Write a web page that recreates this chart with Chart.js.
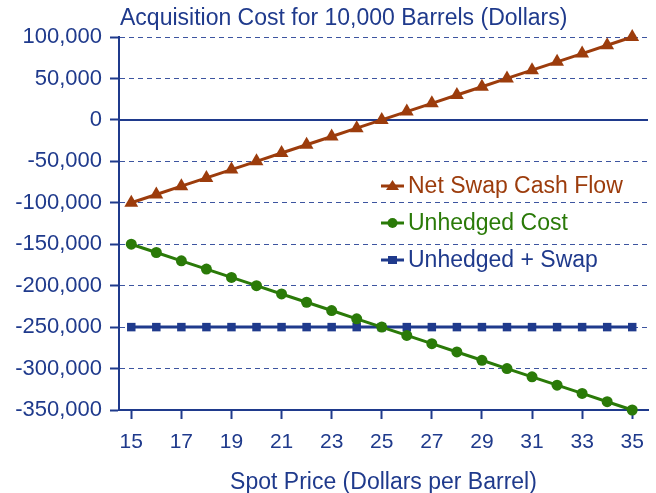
<!DOCTYPE html>
<html>
<head>
<meta charset="utf-8">
<script src="https://cdn.jsdelivr.net/npm/chart.js@4"></script>
<style>
  html, body { margin: 0; padding: 0; background: #fff; }
  #wrap { width: 656px; height: 493px; position: relative; }
</style>
</head>
<body>
<div id="wrap"><canvas id="swapChart"></canvas></div>
<script>
const spotPrices = [15, 16, 17, 18, 19, 20, 21, 22, 23, 24, 25, 26, 27, 28, 29, 30, 31, 32, 33, 34, 35];
const netSwap = [-100000, -90000, -80000, -70000, -60000, -50000, -40000, -30000, -20000, -10000, 0,
  10000, 20000, 30000, 40000, 50000, 60000, 70000, 80000, 90000, 100000];
const unhedged = [-150000, -160000, -170000, -180000, -190000, -200000, -210000, -220000, -230000, -240000, -250000,
  -260000, -270000, -280000, -290000, -300000, -310000, -320000, -330000, -340000, -350000];
const hedged = [-250000, -250000, -250000, -250000, -250000, -250000, -250000, -250000, -250000, -250000, -250000,
  -250000, -250000, -250000, -250000, -250000, -250000, -250000, -250000, -250000, -250000];
const xTicks = [15, 17, 19, 21, 23, 25, 27, 29, 31, 33, 35];
const yTicks = [-350000, -300000, -250000, -200000, -150000, -100000, -50000, 0, 50000, 100000];
const seriesNames = ["Net Swap Cash Flow", "Unhedged Cost", "Unhedged + Swap"];

const NAVY = "#1f3a8c";
const BROWN = "#9c3c0c";
const GREEN = "#2a7a08";
const FONT = "'Liberation Sans', Arial, sans-serif";

// titulo, linea del cero y leyenda dentro del area del grafico
const extras = {
  id: "extras",
  beforeDatasetsDraw(chart) {
    const { ctx, scales } = chart;
    const y0 = scales.y.getPixelForValue(0);
    ctx.save();
    ctx.strokeStyle = NAVY;
    ctx.lineWidth = 2;
    ctx.beginPath();
    ctx.moveTo(chart.chartArea.left, y0);
    ctx.lineTo(chart.chartArea.right, y0);
    ctx.stroke();
    ctx.restore();
  },
  afterDraw(chart) {
    const { ctx } = chart;
    ctx.save();
    ctx.font = "23px " + FONT;
    ctx.fillStyle = NAVY;
    ctx.textBaseline = "middle";
    ctx.fillText("Acquisition Cost for 10,000 Barrels (Dollars)", 120, 19);

    const colors = [BROWN, GREEN, NAVY];
    const shapes = ["triangle", "circle", "rect"];
    const rows = [186, 223, 260];
    rows.forEach((ry, i) => {
      ctx.strokeStyle = colors[i];
      ctx.fillStyle = colors[i];
      ctx.lineWidth = 3;
      ctx.beginPath();
      ctx.moveTo(381, ry);
      ctx.lineTo(404, ry);
      ctx.stroke();
      ctx.beginPath();
      if (shapes[i] === "triangle") {
        ctx.moveTo(392.5, ry - 6);
        ctx.lineTo(399, ry + 4);
        ctx.lineTo(386, ry + 4);
        ctx.closePath();
      } else if (shapes[i] === "circle") {
        ctx.arc(392.5, ry, 5, 0, Math.PI * 2);
      } else {
        ctx.rect(388, ry - 4, 9, 8);
      }
      ctx.fill();
      ctx.fillText(seriesNames[i], 408, ry + 1);
    });
    ctx.restore();
  },
};

const mkData = (vals) => spotPrices.map((x, i) => ({ x, y: vals[i] }));

new Chart(document.getElementById("swapChart"), {
  type: "line",
  data: {
    datasets: [
      {
        label: seriesNames[0],
        data: mkData(netSwap),
        borderColor: BROWN,
        backgroundColor: BROWN,
        borderWidth: 3,
        pointStyle: "triangle",
        pointRadius: 8,
        pointBorderWidth: 0,
      },
      {
        label: seriesNames[1],
        data: mkData(unhedged),
        borderColor: GREEN,
        backgroundColor: GREEN,
        borderWidth: 3,
        pointStyle: "circle",
        pointRadius: 5.5,
        pointBorderWidth: 0,
      },
      {
        label: seriesNames[2],
        data: mkData(hedged),
        borderColor: NAVY,
        backgroundColor: NAVY,
        borderWidth: 3,
        pointStyle: "rect",
        pointRadius: 6,
        pointBorderWidth: 0,
      },
    ],
  },
  options: {
    responsive: true,
    maintainAspectRatio: false,
    animation: false,
    clip: false,
    layout: { padding: { top: 37, right: 0, left: 0, bottom: 0 } },
    plugins: {
      legend: { display: false },
      title: { display: false },
      tooltip: { enabled: false },
    },
    scales: {
      x: {
        type: "linear",
        min: 14.51,
        max: 35.63,
        afterBuildTicks: (s) => { s.ticks = xTicks.map((v) => ({ value: v })); },
        afterFit: (s) => { s.height = 83; s.paddingLeft = 0; s.paddingRight = 0; },
        border: { display: true, color: NAVY, width: 2 },
        grid: { drawOnChartArea: false, drawTicks: true, tickLength: 9, tickColor: NAVY, tickWidth: 2 },
        ticks: { color: NAVY, font: { family: FONT, size: 21 }, padding: 11, maxRotation: 0 },
        title: {
          display: true,
          text: "Spot Price (Dollars per Barrel)",
          color: NAVY,
          font: { family: FONT, size: 23 },
          padding: { top: 0, bottom: -3 },
        },
      },
      y: {
        min: -350000,
        max: 100000,
        afterBuildTicks: (s) => { s.ticks = yTicks.map((v) => ({ value: v })); },
        afterFit: (s) => { s.width = 119; s.paddingTop = 0; s.paddingBottom = 0; },
        border: { display: true, color: NAVY, width: 2, dash: [5, 4] },
        grid: { color: "#3d55a0", lineWidth: 1, tickLength: 9, tickColor: NAVY, tickWidth: 2, tickBorderDash: [] },
        ticks: {
          color: NAVY,
          font: { family: FONT, size: 22 },
          padding: 8,
          callback: (v) => v.toLocaleString("en-US"),
        },
      },
    },
  },
  plugins: [extras],
});
</script>
</body>
</html>
